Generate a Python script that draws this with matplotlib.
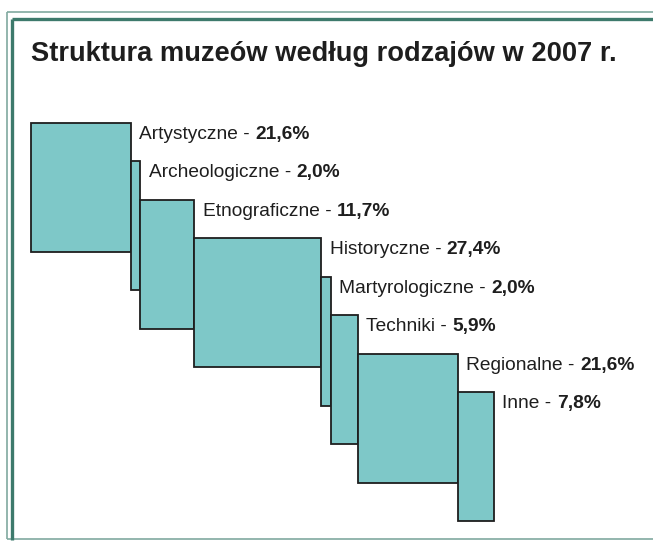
import numpy as np
import matplotlib.pyplot as plt
from matplotlib.patches import Rectangle
from matplotlib.lines import Line2D

# Struktura muzeów według rodzajów w 2007 r.
categories = ["Artystyczne", "Archeologiczne", "Etnograficzne", "Historyczne",
              "Martyrologiczne", "Techniki", "Regionalne", "Inne"]
shares = [21.6, 2.0, 11.7, 27.4, 2.0, 5.9, 21.6, 7.8]
value_labels = ["21,6%", "2,0%", "11,7%", "27,4%", "2,0%", "5,9%", "21,6%", "7,8%"]

FILL = "#7ec8c8"
EDGE = "#1e1e1e"
DARK_GREEN = "#3d7a6c"
LIGHT_GREEN = "#80a9a0"
BOX_H = 3.36  # rectangle height in "steps"

plt.rcParams["font.family"] = ["Liberation Sans", "DejaVu Sans"]

W, H = 653, 541
fig = plt.figure(figsize=(W / 100, H / 100), dpi=100)

# axes: x in percent, y in steps (one step per category)
ax = fig.add_axes([31 / W, (H - 521) / H, 463 / W, 398 / H])
ax.set_xlim(0, 100)
ax.set_ylim(len(categories) - 1 + BOX_H, 0)
ax.axis("off")

starts = np.concatenate([[0], np.cumsum(shares)[:-1]])
for i, (cat, s, x0, lab) in enumerate(zip(categories, shares, starts, value_labels)):
    ax.add_patch(Rectangle((x0, i), s, BOX_H, facecolor=FILL, edgecolor=EDGE,
                           linewidth=1.3, zorder=2 + i, clip_on=False))
    t = ax.annotate(cat + " - ", xy=(x0 + s, i), xytext=(6, -2.2),
                    textcoords="offset points", ha="left", va="top",
                    fontsize=13.8, color="#1e1e1e", annotation_clip=False)
    ax.annotate(lab, xy=(1, 0), xycoords=t, xytext=(0, 0),
                textcoords="offset points", ha="left", va="bottom",
                fontsize=13.8, fontweight="bold", color="#1e1e1e",
                annotation_clip=False)

fig.text(31 / W, 1 - 54 / H, "Struktura muzeów według rodzajów w 2007 r.",
         ha="left", va="center", fontsize=19.6, fontweight="bold", color="#1e1e1e")

# frame
def px_line(x, y, color, lw):
    fig.add_artist(Line2D([p / W for p in x], [1 - p / H for p in y],
                          color=color, linewidth=lw, solid_capstyle="butt"))

px_line([6.5, 653], [12, 12], LIGHT_GREEN, 1.2)
px_line([6.5, 6.5], [12, 539], LIGHT_GREEN, 1.2)
px_line([6.5, 653], [539, 539], LIGHT_GREEN, 1.2)
px_line([12.5, 653], [18.5, 18.5], DARK_GREEN, 2.4)
px_line([12.5, 12.5], [18.5, 540], DARK_GREEN, 2.4)

fig.savefig("out.png", dpi=100)
